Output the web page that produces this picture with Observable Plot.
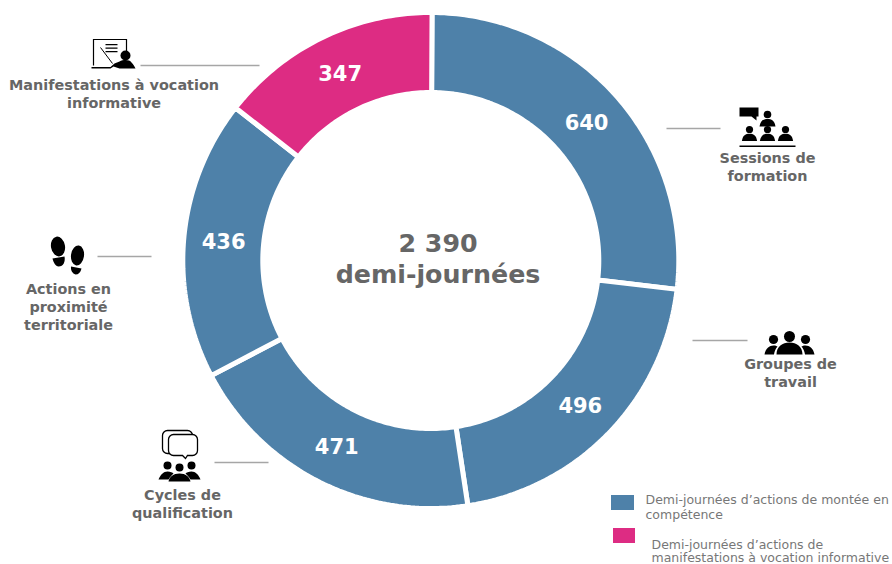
<!DOCTYPE html>
<html lang="fr">
<head>
<meta charset="utf-8">
<script src="https://cdn.jsdelivr.net/npm/d3@7"></script>
<script src="https://cdn.jsdelivr.net/npm/@observablehq/plot@0.6"></script>
<style>
html,body{margin:0;padding:0;background:#fff;overflow:hidden}
svg{display:block}
</style>
</head>
<body>
<div id="chart"></div>
<script>
const categories = ["Sessions de formation","Groupes de travail","Cycles de qualification","Actions en proximité territoriale","Manifestations à vocation informative"];
const values = [640,496,471,436,347];
const kinds = ["montee","montee","montee","montee","manif"];
const kindNames = ["montee","manif"];
const kindColors = ["#4e81a9","#dd2c83"];
const legendLines = [
  ["montee",["Demi-journées d’actions de montée en","compétence"]],
  ["manif",["Demi-journées d’actions de","manifestations à vocation informative"]]
];
const centerTitle = ["2 390","demi-journées"];

const cx = 430.3, cy = 260, R = 248, r = 168, textR = 208, start = 0.005;
const pie = d3.pie().sort(null).startAngle(start).endAngle(start + 2*Math.PI)(values);
const polar = (a, rad) => [cx + rad*Math.sin(a), cy - rad*Math.cos(a)];
const slicePts = pie.flatMap((p,i) => {
  const n = Math.ceil((p.endAngle-p.startAngle)*60);
  const outer = d3.range(n+1).map(k => polar(p.startAngle+(p.endAngle-p.startAngle)*k/n, R));
  const inner = d3.range(n+1).map(k => polar(p.endAngle-(p.endAngle-p.startAngle)*k/n, r));
  return [...outer,...inner,outer[0]].map(([x,y]) => ({x,y,slice:categories[i],kind:kinds[i]}));
});
const sliceLabels = pie.map((p,i) => {
  const [x,y] = polar((p.startAngle+p.endAngle)/2, textR);
  return {x,y:y+1,text:String(values[i])};
});

const ink = "#666666";
const labelBlocks = [
  {lines:["Sessions de","formation"],x:767,y:158,dy:18},
  {lines:["Groupes de","travail"],x:790,y:364,dy:18},
  {lines:["Cycles de","qualification"],x:182,y:495,dy:18},
  {lines:["Actions en","proximité","territoriale"],x:68,y:289,dy:18},
  {lines:["Manifestations à vocation","informative"],x:113.5,y:85,dy:17.500}
];
const labelRows = labelBlocks.flatMap(b => b.lines.map((t,i)=>({x:b.x,y:b.y+i*b.dy,t})));
const leaders = [[666,720,128],[692,747,340],[214,268,462],[97,151,256],[140,259,65]];

const uri = (s,h=50) => "data:image/svg+xml;utf8," + encodeURIComponent(`<svg xmlns="http://www.w3.org/2000/svg" viewBox="0 0 60 ${h}">${s}</svg>`);
const person = (x,y,s) => `<circle cx="${x}" cy="${y}" r="${3.8*s}"/><path d="M${x-8*s} ${y+12*s}c${1*s}-${6*s} ${4*s}-${7.5*s} ${8*s}-${7.5*s}s${7*s} ${1.5*s} ${8*s} ${7.5*s}z"/>`;
const iconSvgs = [
  {x:766,y:125,w:60,h:50,src:uri(`<path d="M3 7h19v9h-2v4l-5-4H3z"/>${person(31,14,1)}${person(13,29,.95)}${person(31,29,.95)}${person(49,29,.95)}<rect x="3" y="45" width="56" height="1.500"/>`)},
  {x:789,y:340,w:60,h:50,src:uri(`<circle cx="14" cy="24" r="4.600"/><circle cx="46" cy="24" r="4.600"/><circle cx="30" cy="21" r="5.500"/><path d="M5 39c1-6 5-9 9-9 2 0 3 .5 4 1-2 2-3 5-3.500 8zM55 39c-1-6-5-9-9-9-2 0-3 .5-4 1 2 2 3 5 3.500 8zM17 39c0-8 6-12 13-12s13 4 13 12z"/>`)},
  {x:180,y:455,w:60,h:60,src:uri(`<g fill="#fff" stroke="#000" stroke-width="1.300"><rect x="12" y="5" width="30" height="23" rx="5"/><path d="M23 9h19a5 5 0 0 1 5 5v11a5 5 0 0 1-5 5h-5l-2 3-3-3H23a5 5 0 0 1-5-5V14a5 5 0 0 1 5-5z"/></g><circle cx="17" cy="40" r="4"/><circle cx="41" cy="40" r="4"/><circle cx="29" cy="42" r="4"/><path d="M8 54c2-5 5-8 9-8 3 0 5 1 6 2-2 2-4 4-5 6zM50 54c-2-5-5-8-9-8-3 0-5 1-6 2 2 2 4 4 5 6zM18 56c1-5 5-8 11-8s10 3 11 8z"/>`,60)},
  {x:67,y:256,w:60,h:50,src:uri(`<ellipse cx="20.500" cy="15" rx="7" ry="10" transform="rotate(-10 20.500 15)"/><path d="M15 27l12-2c1 5-1 10-6 10-3 0-5-4-6-8z"/><ellipse cx="40" cy="24" rx="6.500" ry="10" transform="rotate(8 40 24)"/><path d="M33.500 35l10.500 2c-1 4-3 6-6 6-3-1-5-4-4.500-8z"/>`)},
  {x:113,y:60,w:60,h:50,src:uri(`<path fill="none" stroke="#000" stroke-width="1.200" d="M10 30V4h33v16"/><path d="M22 8.500h12v1.300H22zM22 12h12v1.300H22zM22 15.500h12v1.300H22z"/><path d="M17 12l12 16" stroke="#000" stroke-width="1" fill="none"/><circle cx="42" cy="20" r="5"/><path d="M31 28l5-2c4-2 10-2 12 1 2 2 3 4 4 6H36l-6-2-3 2h-19v-1.500h19z"/>`)}
];
const legendSwatches = [
  {kind:"montee",x1:611,x2:634,y1:495,y2:510},
  {kind:"manif",x1:613,x2:635,y1:528,y2:543}
];
const legendRows = [
  ...legendLines[0][1].map((t,i)=>({t,x:645,y:499+i*15.5})),
  ...legendLines[1][1].map((t,i)=>({t,x:651,y:544+i*13.5}))
];

const font = "DejaVu Sans";
const chart = Plot.plot({
  width:892, height:564, margin:0,
  x:{domain:[0,892],range:[0,892],axis:null},
  y:{domain:[0,564],range:[0,564],axis:null},
  color:{domain:kindNames,range:kindColors},
  style:{fontFamily:font,background:"#fff"},
  marks:[
    Plot.line(slicePts,{x:"x",y:"y",z:"slice",fill:"kind",stroke:"#fff",strokeWidth:5,curve:"linear",strokeLinejoin:"miter"}),
    Plot.text(sliceLabels,{x:"x",y:"y",text:"text",fill:"#fff",fontSize:21,fontWeight:"bold",fontFamily:font}),
    Plot.text(centerTitle,{x:()=>437.5,y:(d,i)=>243+i*31,text:d=>d,fill:ink,fontSize:25.3,fontWeight:"bold",fontFamily:font}),
    Plot.text(labelRows,{x:"x",y:"y",text:"t",fill:ink,fontSize:14.4,fontWeight:"bold",fontFamily:font}),
    Plot.link(leaders,{x1:d=>d[0],x2:d=>d[1],y1:d=>d[2],y2:d=>d[2],stroke:"#a6a6a6",strokeWidth:1.5}),
    Plot.image(iconSvgs,{x:"x",y:"y",width:"w",height:"h",src:"src"}),
    Plot.rect(legendSwatches,{x1:"x1",x2:"x2",y1:"y1",y2:"y2",fill:"kind",inset:0}),
    Plot.text(legendRows,{x:"x",y:"y",text:"t",fill:"#777777",fontSize:12.5,textAnchor:"start",fontFamily:font})
  ]
});
document.getElementById("chart").append(chart);
</script>
</body>
</html>
